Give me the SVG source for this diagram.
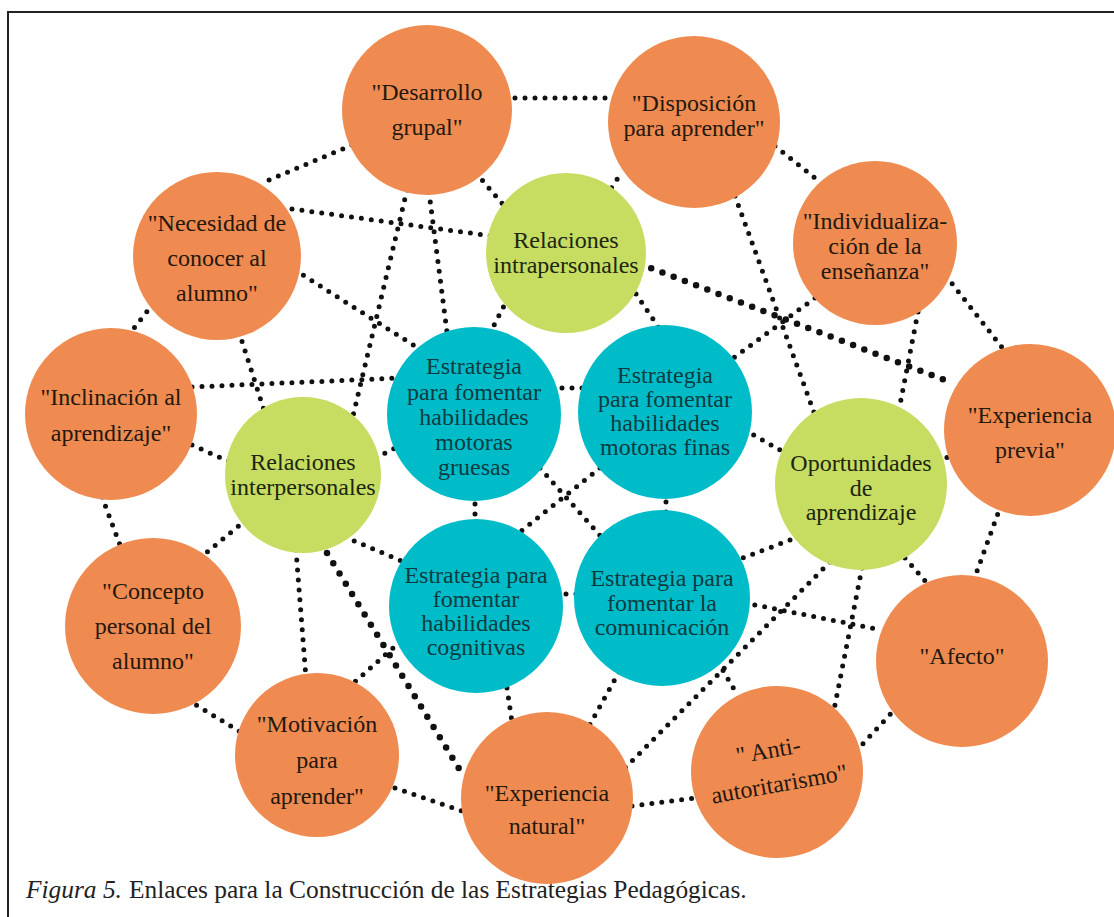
<svg xmlns="http://www.w3.org/2000/svg" width="1114" height="917" viewBox="0 0 1114 917">
<style>
.bg{fill:#ffffff}
.frame{stroke:#222;stroke-width:2;fill:none}
.dot{stroke:#111;stroke-width:5;stroke-linecap:round;stroke-dasharray:0 10;fill:none}
.dotb{stroke:#111;stroke-width:6.5;stroke-linecap:round;stroke-dasharray:0 12;fill:none}
.or{fill:#EF8B50}
.gr{fill:#C6DD62}
.te{fill:#00BCC9}
text{font-family:"Liberation Serif","Times New Roman",serif;font-size:24px;text-anchor:middle}
.to{fill:#24180f}
.tg{fill:#1c2610}
.tt{fill:#0e3b40}
.cap{font-size:25.4px;text-anchor:start;fill:#222}
</style>
<rect class="bg" x="0" y="0" width="1114" height="917"/>
<path class="frame" d="M8,917 V12 H1114"/>
<g id="connectors">
<line class="dot" x1="505" y1="98" x2="615" y2="98"/>
<line class="dot" x1="352" y1="145" x2="262" y2="183"/>
<line class="dot" x1="292" y1="209" x2="492" y2="236"/>
<line class="dot" x1="295" y1="270" x2="418" y2="348"/>
<line class="dot" x1="239" y1="332" x2="264" y2="410"/>
<line class="dot" x1="153" y1="304" x2="131" y2="332"/>
<line class="dot" x1="407" y1="190" x2="352" y2="420"/>
<line class="dot" x1="429" y1="192" x2="447" y2="332"/>
<line class="dot" x1="476" y1="173" x2="506" y2="208"/>
<line class="dot" x1="192" y1="387" x2="400" y2="378"/>
<line class="dot" x1="192" y1="445" x2="230" y2="462"/>
<line class="dot" x1="508" y1="298" x2="490" y2="333"/>
<line class="dot" x1="606" y1="196" x2="622" y2="172"/>
<line class="dot" x1="636" y1="294" x2="659" y2="328"/>
<line class="dotb" x1="640" y1="264" x2="950" y2="382"/>
<line class="dot" x1="735" y1="196" x2="815" y2="415"/>
<line class="dot" x1="775" y1="146" x2="820" y2="182"/>
<line class="dot" x1="815" y1="298" x2="728" y2="362"/>
<line class="dot" x1="918" y1="312" x2="898" y2="415"/>
<line class="dot" x1="946" y1="276" x2="1004" y2="350"/>
<line class="dot" x1="552" y1="388" x2="588" y2="388"/>
<line class="dot" x1="745" y1="430" x2="780" y2="450"/>
<line class="dot" x1="938" y1="462" x2="952" y2="455"/>
<line class="dot" x1="666" y1="492" x2="666" y2="518"/>
<line class="dot" x1="475" y1="494" x2="475" y2="526"/>
<line class="dot" x1="376" y1="458" x2="397" y2="447"/>
<line class="dot" x1="540" y1="468" x2="604" y2="540"/>
<line class="dot" x1="600" y1="468" x2="520" y2="532"/>
<line class="dot" x1="556" y1="594" x2="584" y2="594"/>
<line class="dot" x1="246" y1="520" x2="200" y2="558"/>
<line class="dot" x1="345" y1="537" x2="404" y2="562"/>
<line class="dot" x1="296" y1="550" x2="306" y2="678"/>
<line class="dotb" x1="327" y1="553" x2="463" y2="775"/>
<line class="dot" x1="102" y1="497" x2="120" y2="545"/>
<line class="dot" x1="188" y1="700" x2="242" y2="733"/>
<line class="dot" x1="348" y1="688" x2="402" y2="640"/>
<line class="dot" x1="395" y1="788" x2="462" y2="811"/>
<line class="dot" x1="507" y1="688" x2="512" y2="722"/>
<line class="dot" x1="619" y1="672" x2="588" y2="728"/>
<line class="dot" x1="830" y1="562" x2="625" y2="768"/>
<line class="dot" x1="790" y1="540" x2="735" y2="561"/>
<line class="dot" x1="862" y1="568" x2="834" y2="710"/>
<line class="dot" x1="905" y1="558" x2="926" y2="582"/>
<line class="dot" x1="1001" y1="505" x2="976" y2="574"/>
<line class="dot" x1="745" y1="603" x2="882" y2="630"/>
<line class="dot" x1="718" y1="662" x2="738" y2="696"/>
<line class="dot" x1="897" y1="707" x2="858" y2="749"/>
<line class="dot" x1="632" y1="806" x2="696" y2="798"/>
</g>
<g id="n_desarrollo"><circle class="or" cx="427" cy="110" r="85"/><text class="to" x="427" y="100">"Desarrollo</text><text class="to" x="427" y="135">grupal"</text></g>
<g id="n_disposicion"><circle class="or" cx="694" cy="122" r="86"/><text class="to" x="694" y="111">"Disposición</text><text class="to" x="694" y="136">para aprender"</text></g>
<g id="n_individualizacion"><circle class="or" cx="875" cy="243" r="82"/><text class="to" x="875" y="229">"Individualiza-</text><text class="to" x="875" y="254">ción de la</text><text class="to" x="875" y="279">enseñanza"</text></g>
<g id="n_previa"><circle class="or" cx="1030" cy="430" r="86"/><text class="to" x="1030" y="423">"Experiencia</text><text class="to" x="1030" y="458">previa"</text></g>
<g id="n_afecto"><circle class="or" cx="962" cy="661" r="86"/><text class="to" x="962" y="664">"Afecto"</text></g>
<g id="n_anti"><circle class="or" cx="777" cy="772" r="86"/><g transform="rotate(-10 777 772)"><text class="to" x="772" y="757">" Anti-</text><text class="to" x="777" y="792">autoritarismo"</text></g></g>
<g id="n_natural"><circle class="or" cx="547" cy="798" r="86"/><text class="to" x="547" y="801">"Experiencia</text><text class="to" x="547" y="834">natural"</text></g>
<g id="n_motivacion"><circle class="or" cx="317" cy="755" r="82"/><text class="to" x="317" y="732">"Motivación</text><text class="to" x="317" y="768">para</text><text class="to" x="317" y="804">aprender"</text></g>
<g id="n_concepto"><circle class="or" cx="153" cy="626" r="88"/><text class="to" x="153" y="599">"Concepto</text><text class="to" x="153" y="634">personal del</text><text class="to" x="153" y="669">alumno"</text></g>
<g id="n_inclinacion"><circle class="or" cx="111" cy="414" r="86"/><text class="to" x="111" y="405">"Inclinación al</text><text class="to" x="111" y="441">aprendizaje"</text></g>
<g id="n_necesidad"><circle class="or" cx="217" cy="256" r="84"/><text class="to" x="217" y="231">"Necesidad de</text><text class="to" x="217" y="266">conocer al</text><text class="to" x="217" y="301">alumno"</text></g>
<g id="n_intrapersonales"><circle class="gr" cx="566" cy="253" r="80"/><text class="tg" x="566" y="248">Relaciones</text><text class="tg" x="566" y="273">intrapersonales</text></g>
<g id="n_interpersonales"><circle class="gr" cx="303" cy="475" r="78"/><text class="tg" x="303" y="470">Relaciones</text><text class="tg" x="303" y="495">interpersonales</text></g>
<g id="n_oportunidades"><circle class="gr" cx="861" cy="484" r="86"/><text class="tg" x="861" y="471">Oportunidades</text><text class="tg" x="861" y="496">de</text><text class="tg" x="861" y="520">aprendizaje</text></g>
<g id="n_gruesas"><circle class="te" cx="474" cy="414" r="87"/><text class="tt" x="474" y="374">Estrategia</text><text class="tt" x="474" y="400">para fomentar</text><text class="tt" x="474" y="425">habilidades</text><text class="tt" x="474" y="450">motoras</text><text class="tt" x="474" y="475">gruesas</text></g>
<g id="n_finas"><circle class="te" cx="665" cy="412" r="87"/><text class="tt" x="665" y="383">Estrategia</text><text class="tt" x="665" y="407">para fomentar</text><text class="tt" x="665" y="431">habilidades</text><text class="tt" x="665" y="455">motoras finas</text></g>
<g id="n_cognitivas"><circle class="te" cx="476" cy="606" r="87"/><text class="tt" x="476" y="583">Estrategia para</text><text class="tt" x="476" y="607">fomentar</text><text class="tt" x="476" y="631">habilidades</text><text class="tt" x="476" y="655">cognitivas</text></g>
<g id="n_comunicacion"><circle class="te" cx="662" cy="598" r="88"/><text class="tt" x="662" y="586">Estrategia para</text><text class="tt" x="662" y="611">fomentar la</text><text class="tt" x="662" y="635">comunicación</text></g>
<g id="caption"><text class="cap" x="26" y="898"><tspan font-style="italic">Figura 5.</tspan></text><text class="cap" x="129" y="898">Enlaces para la Construcción de las Estrategias Pedagógicas.</text></g>
</svg>
